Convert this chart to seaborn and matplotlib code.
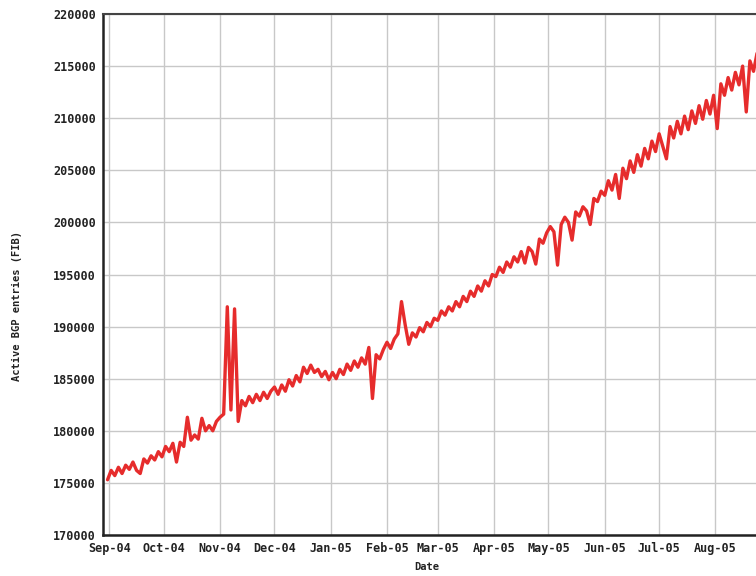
import pandas as pd
import numpy as np
import seaborn as sns
import matplotlib.pyplot as plt
from matplotlib.ticker import MultipleLocator, FuncFormatter

# Active BGP entries, one reading every 2 days from 31 Aug 2004
start_date = "2004-08-31"
step = "2D"

sep04 = [175300, 176200, 175700, 176500, 175900, 176700, 176300, 177000,
         176200, 175900, 177300, 176900, 177600, 177200, 178000, 177500]
oct04 = [178500, 178000, 178800, 177000, 178900, 178500, 181300, 179100,
         179600, 179200, 181200, 180000, 180500, 180000, 180900]
nov04 = [181300, 181600, 191900, 182000, 191700, 180900, 182900, 182400,
         183300, 182700, 183500, 182900, 183700, 183100, 183800]
dec04 = [184200, 183500, 184400, 183800, 184900, 184300, 185300, 184700,
         186100, 185500, 186300, 185600, 185900, 185200, 185700, 184900]
jan05 = [185600, 185000, 185900, 185400, 186400, 185800, 186700, 186100,
         187000, 186400, 188000, 183100, 187300, 186900, 187800]
feb05 = [188500, 187900, 188800, 189300, 192400, 190200, 188300, 189400,
         189000, 189900, 189500, 190400, 190000, 190800]
mar05 = [190600, 191500, 191100, 191900, 191500, 192400, 191900, 192900,
         192400, 193400, 192900, 193900, 193400, 194400, 193900, 195000]
apr05 = [194800, 195700, 195200, 196200, 195700, 196700, 196200, 197200,
         196100, 197600, 197200, 196000, 198400, 198000, 199000]
may05 = [199600, 199100, 195900, 199800, 200500, 200000, 198300, 201000,
         200600, 201500, 201100, 199800, 202300, 202000, 203000]
jun05 = [202600, 204000, 203100, 204600, 202300, 205200, 204200, 205900,
         204800, 206500, 205400, 207100, 206100, 207800, 206800]
jul05 = [208500, 207300, 206100, 209200, 208100, 209700, 208500, 210200,
         208900, 210700, 209500, 211200, 209900, 211700, 210400, 212200]
aug05 = [209000, 213300, 212200, 213900, 212700, 214400, 213200, 215000,
         210600, 215500, 214500, 216300]

month_labels = ["Sep-04", "Oct-04", "Nov-04", "Dec-04", "Jan-05", "Feb-05",
                "Mar-05", "Apr-05", "May-05", "Jun-05", "Jul-05", "Aug-05"]

entries = sep04 + oct04 + nov04 + dec04 + jan05 + feb05 + mar05 + apr05 + may05 + jun05 + jul05 + aug05
dates = pd.date_range(start_date, periods=len(entries), freq=step)
df = pd.DataFrame({"Date": dates, "entries": entries})

sns.set_style("white")
plt.rcParams['font.family'] = ['DejaVu Sans Mono', 'DejaVu Sans']

fig = plt.figure(figsize=(7.56, 5.76), dpi=100)
# axes runs past the right edge of the picture, like the cropped original
ax = fig.add_axes([103 / 756, 41 / 576, 685 / 756, 521 / 576])

sns.lineplot(data=df, x="Date", y="entries", ax=ax, color="#e62c2c", linewidth=2.4)

ax.set_xlim(pd.Timestamp("2004-08-28 12:00"), pd.Timestamp("2005-09-10"))
ax.set_ylim(170000, 220000)

month_starts = pd.date_range("2004-09-01", periods=len(month_labels), freq="MS")
ax.set_xticks(month_starts)
ax.set_xticklabels(month_labels)
ax.yaxis.set_major_locator(MultipleLocator(5000))
ax.yaxis.set_major_formatter(FuncFormatter(lambda v, p: f"{int(v)}"))

ax.grid(True, color="#c8c8c8", linewidth=1.0)
ax.set_axisbelow(True)

for lab in ax.get_xticklabels() + ax.get_yticklabels():
    lab.set_fontweight("bold")
    lab.set_fontsize(8.5)
    lab.set_color("#222222")
ax.tick_params(axis="both", direction="inout", length=4, width=1, color="#555555", pad=3)

for side in ["left", "bottom"]:
    ax.spines[side].set_color("#222222")
    ax.spines[side].set_linewidth(1.8)
ax.spines["top"].set_color("#444444")
ax.spines["top"].set_linewidth(1.5)

ax.set_xlabel("Date", fontsize=7.5, fontweight="bold", color="#222222")
ax.set_ylabel("Active BGP entries (FIB)", fontsize=7.5, fontweight="bold", color="#222222")
ax.xaxis.set_label_coords(0.473, -0.052)
ax.yaxis.set_label_coords(-0.118, 0.44)

fig.savefig("out.png", dpi=100)
